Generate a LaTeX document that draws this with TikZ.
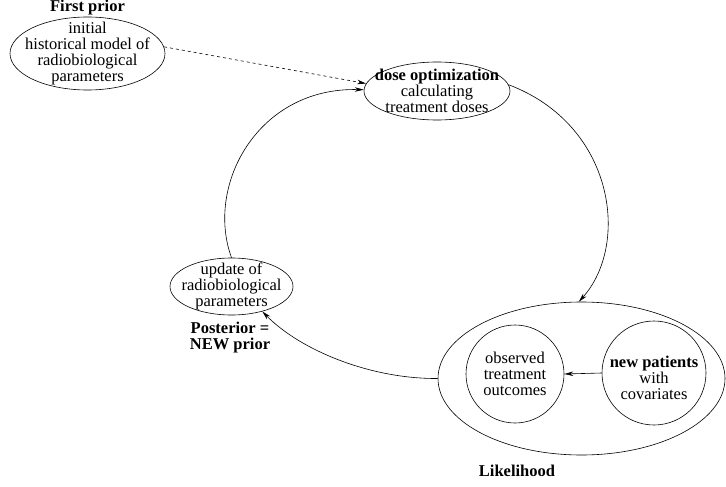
\documentclass[tikz,border=0pt]{standalone}
\usepackage{fontspec}
\setmainfont{Liberation Serif}
\usetikzlibrary{shapes.geometric,arrows.meta}
\begin{document}
\begin{tikzpicture}[x=1pt,y=-1pt,
  every node/.style={font=\fontsize{16.5}{16}\selectfont, align=center, inner sep=0pt},
  every label/.style={font=\fontsize{16.5}{16}\selectfont, align=center, inner sep=0pt},
  ell/.style={draw, ellipse, line width=0.6pt},
  circ/.style={draw, circle, line width=0.6pt},
  lbl/.style={font=\fontsize{16.5}{16}\selectfont\bfseries},
  conn/.style={line width=0.6pt, -{Stealth[length=9pt,width=4.5pt]}}]
\useasboundingbox (0,0) rectangle (726,487);
\node[ell, minimum width=155pt, minimum height=73pt,
  label={center:{initial\\historical model of\\radiobiological\\parameters}}] (fp) at (87.5,53.5) {};
\node[lbl] (fpl) at (87.5,8) {First prior};
\node[ell, minimum width=146pt, minimum height=58pt,
  label={center:{\textbf{dose optimization}\\calculating\\treatment doses}}] (dose) at (437,91) {};
\node[ell, minimum width=123pt, minimum height=57pt,
  label={center:{update of\\radiobiological\\parameters}}] (upd) at (231.5,286.5) {};
\node[lbl] (post) at (230,338) {Posterior =\\NEW prior};
\node[ell, minimum width=287pt, minimum height=153pt] (lik) at (581.5,378.5) {};
\node[lbl] (likl) at (517,471) {Likelihood};
\node[circ, minimum size=98pt,
  label={center:{observed\\treatment\\outcomes}}] (obs) at (515,374) {};
\node[circ, minimum size=104pt,
  label={[yshift=-5pt]center:{\textbf{new patients}\\with\\covariates}}] (np) at (654,373) {};
\draw[conn, dashed] (fp.5) -- (dose.174);
\draw[conn] (upd.north) .. controls (205,185) and (258,87) .. (dose.179);
\draw[conn] (dose.5) .. controls (615,125) and (630,245) .. (lik.92);
\draw[conn] (lik.west) .. controls (370,379) and (300,350) .. (upd.-39);
\draw[conn] (np.west) -- (obs.east);
\end{tikzpicture}
\end{document}
